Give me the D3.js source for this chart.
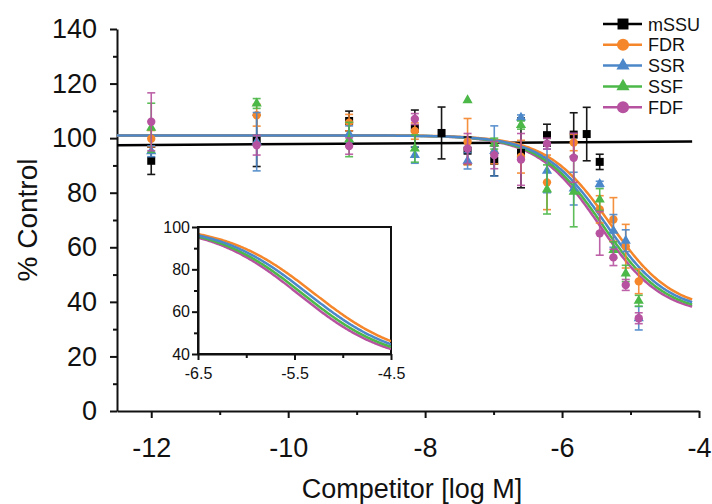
<!DOCTYPE html>
<html lang="en">
<head>
  <meta charset="UTF-8">
  <script src="https://d3js.org/d3.v7.min.js"></script>
  <style>
    body { margin: 0; background: #fff; }
    svg text { font-family: "Liberation Sans", Arial, sans-serif; fill: #111; }
  </style>
  <title>Competition curves</title>
</head>
<body>
  <div id="chart"></div>
  <script>
    // log concentrations used for each series
    var xAll = [-12, -10.46, -9.11, -8.15, -7.38, -6.99, -6.60, -6.22, -5.83, -5.45, -5.25, -5.07, -4.88];
    var xSSU = [-12, -10.46, -9.11, -8.15, -7.76, -7.38, -6.99, -6.60, -6.22, -5.83, -5.64, -5.45];

    // % control, mean and error
    var mSSU    = [91.7, 99.0, 106.3, 103.5, 101.9, 95.4, 91.7, 94.6, 101.1, 101.3, 101.5, 91.3];
    var mSSUErr = [5.0, 9.4, 3.6, 6.8, 9.5, 5.0, 5.5, 12.8, 4.0, 8.0, 9.8, 2.8];
    var FDR     = [99.8, 108.4, 105.7, 102.6, 98.7, 94.6, 93.2, 83.8, 98.4, 73.9, 70.2, 60.4, 47.5];
    var FDRErr  = [3.0, 4.0, 3.0, 3.0, 8.5, 4.0, 6.0, 10.0, 3.0, 5.0, 8.0, 8.0, 4.5];
    var SSR     = [95.2, 98.7, 101.5, 93.8, 91.7, 95.3, 107.5, 88.0, 81.5, 83.2, 66.0, 62.4, 34.0];
    var SSRErr  = [2.0, 10.7, 3.0, 3.0, 3.0, 9.2, 1.0, 8.0, 6.0, 1.0, 6.0, 4.0, 4.3];
    var SSF     = [103.8, 112.7, 99.5, 96.2, 113.9, 98.0, 104.8, 81.2, 80.3, 77.5, 59.0, 50.4, 40.4];
    var SSFErr  = [9.0, 1.8, 6.3, 5.0, 0, 2.0, 1.5, 9.0, 12.8, 4.0, 3.0, 3.0, 2.0];
    var FDF     = [106.0, 97.4, 97.1, 107.0, 96.2, 93.8, 92.2, 98.0, 92.8, 65.1, 56.3, 46.2, 34.0];
    var FDFErr  = [10.6, 3.6, 3.0, 2.0, 5.5, 5.0, 9.5, 2.0, 9.0, 8.0, 3.0, 2.0, 2.0];

    // fitted curves (4-parameter logistic), mSSU fit is nearly flat
    var fitNames  = ["FDF", "SSF", "FDR", "SSR"];
    var fitTop    = [101.0, 101.0, 101.0, 101.0];
    var fitBottom = [35.0, 35.5, 36.5, 36.0];
    var fitLogIC  = [-5.45, -5.41, -5.30, -5.36];
    var fitHill   = [0.95, 0.95, 0.95, 0.95];
    var mSSUFitX  = [-12.5, -4.1];
    var mSSUFitY  = [97.4, 98.8];

    var legendNames = ["mSSU", "FDR", "SSR", "SSF", "FDF"];
    var xTicks = [-12, -10, -8, -6, -4];
    var yTicks = [0, 20, 40, 60, 80, 100, 120, 140];
    var insetXTicks = [-6.5, -5.5, -4.5];
    var insetYTicks = [40, 60, 80, 100];

    var colors = { mSSU: "#000000", FDR: "#f5862a", SSR: "#4b87c9", SSF: "#4cb848", FDF: "#b6529f" };
    var shapes = { mSSU: d3.symbolSquare, FDR: d3.symbolCircle, SSR: d3.symbolTriangle, SSF: d3.symbolTriangle, FDF: d3.symbolCircle };

    var width = 712, height = 504;
    var svg = d3.select("#chart").append("svg")
        .attr("width", width)
        .attr("height", height);

    var x = d3.scaleLinear().domain([-12.5, -4]).range([117, 699]);
    var y = d3.scaleLinear().domain([0, 140]).range([411, 29]);

    // axes
    var xAxis = svg.append("g").attr("transform", "translate(0,411)")
        .call(d3.axisBottom(x).tickValues(xTicks).tickSize(7).tickSizeOuter(0).tickFormat(d3.format("d")));
    svg.append("g").attr("transform", "translate(0,411)")
        .call(d3.axisBottom(x).tickValues([-11, -9, -7, -5]).tickSize(4).tickFormat(""))
        .select(".domain").remove();
    var yAxis = svg.append("g").attr("transform", "translate(117,0)")
        .call(d3.axisLeft(y).tickValues(yTicks).tickSize(7).tickSizeOuter(0));
    svg.append("g").attr("transform", "translate(117,0)")
        .call(d3.axisLeft(y).tickValues(d3.range(10, 140, 20)).tickSize(4).tickFormat(""))
        .select(".domain").remove();

    svg.selectAll(".domain, .tick line").attr("stroke", "#111").attr("stroke-width", 2);
    xAxis.selectAll("text").attr("font-size", 27).attr("dy", "36px").text(function(d) { return d < 0 ? "-" + Math.abs(d) : d; });
    yAxis.selectAll("text").attr("font-size", 27).attr("x", -20);

    svg.append("text")
        .attr("x", 412).attr("y", 498)
        .attr("text-anchor", "middle")
        .attr("font-size", 27)
        .text("Competitor [log M]");
    svg.append("text")
        .attr("transform", "translate(37,220) rotate(-90)")
        .attr("text-anchor", "middle")
        .attr("font-size", 28)
        .text("% Control");

    function logistic(i, v) {
      return fitBottom[i] + (fitTop[i] - fitBottom[i]) / (1 + Math.pow(10, (v - fitLogIC[i]) * fitHill[i]));
    }

    // main fit curves
    var curveX = d3.range(-12.5, -4.1 + 1e-9, 0.02);
    var line = d3.line().x(function(d) { return x(d[0]); }).y(function(d) { return y(d[1]); });

    svg.append("path")
        .datum(mSSUFitX.map(function(v, i) { return [v, mSSUFitY[i]]; }))
        .attr("d", line)
        .attr("fill", "none")
        .attr("stroke", colors.mSSU)
        .attr("stroke-width", 2.5);

    fitNames.forEach(function(name, i) {
      svg.append("path")
          .datum(curveX.map(function(v) { return [v, logistic(i, v)]; }))
          .attr("d", line)
          .attr("fill", "none")
          .attr("stroke", colors[name])
          .attr("stroke-width", 2.5);
    });

    // data points with error bars
    var series = [
      { name: "mSSU", xs: xSSU, vals: mSSU, err: mSSUErr },
      { name: "FDR", xs: xAll, vals: FDR, err: FDRErr },
      { name: "SSR", xs: xAll, vals: SSR, err: SSRErr },
      { name: "SSF", xs: xAll, vals: SSF, err: SSFErr },
      { name: "FDF", xs: xAll, vals: FDF, err: FDFErr }
    ];

    series.forEach(function(s) {
      var pts = s.xs.map(function(v, i) { return { x: v, y: s.vals[i], e: s.err[i] }; });
      var g = svg.append("g").attr("stroke", colors[s.name]).attr("stroke-width", 1.6).attr("opacity", 0.9);
      pts.forEach(function(p) {
        if (p.e <= 0) return;
        var cx = x(p.x);
        g.append("line").attr("x1", cx).attr("x2", cx).attr("y1", y(p.y - p.e)).attr("y2", y(p.y + p.e));
        g.append("line").attr("x1", cx - 4).attr("x2", cx + 4).attr("y1", y(p.y - p.e)).attr("y2", y(p.y - p.e));
        g.append("line").attr("x1", cx - 4).attr("x2", cx + 4).attr("y1", y(p.y + p.e)).attr("y2", y(p.y + p.e));
      });
      var size = s.name === "mSSU" ? 64 : (shapes[s.name] === d3.symbolCircle ? 55 : 45);
      svg.append("g").selectAll("path")
          .data(pts)
          .enter().append("path")
          .attr("d", d3.symbol().type(shapes[s.name]).size(size))
          .attr("transform", function(d) { return "translate(" + x(d.x) + "," + y(d.y) + ")"; })
          .attr("fill", colors[s.name]);
    });

    // inset
    var ix = d3.scaleLinear().domain([-6.5, -4.5]).range([198, 391]);
    var iy = d3.scaleLinear().domain([40, 100]).range([354, 227]);

    svg.append("rect")
        .attr("x", 198).attr("y", 227).attr("width", 193).attr("height", 127)
        .attr("fill", "#fff").attr("stroke", "#111").attr("stroke-width", 2);

    svg.append("clipPath").attr("id", "insetClip")
      .append("rect").attr("x", 198).attr("y", 227).attr("width", 193).attr("height", 127);

    var insetX = d3.range(-6.5, -4.5 + 1e-9, 0.01);
    var iline = d3.line().x(function(d) { return ix(d[0]); }).y(function(d) { return iy(d[1]); });
    fitNames.forEach(function(name, i) {
      svg.append("path")
          .datum(insetX.map(function(v) { return [v, logistic(i, v)]; }))
          .attr("d", iline)
          .attr("clip-path", "url(#insetClip)")
          .attr("fill", "none")
          .attr("stroke", colors[name])
          .attr("stroke-width", 2.5);
    });

    var ixAxis = svg.append("g").attr("transform", "translate(0,354)")
        .call(d3.axisBottom(ix).tickValues(insetXTicks).tickSize(6).tickSizeOuter(0).tickFormat(d3.format(".1f")));
    svg.append("g").attr("transform", "translate(0,354)")
        .call(d3.axisBottom(ix).tickValues([-6, -5]).tickSize(4).tickFormat(""))
        .select(".domain").remove();
    var iyAxis = svg.append("g").attr("transform", "translate(198,0)")
        .call(d3.axisLeft(iy).tickValues(insetYTicks).tickSize(6).tickSizeOuter(0));
    svg.append("g").attr("transform", "translate(198,0)")
        .call(d3.axisLeft(iy).tickValues([50, 70, 90]).tickSize(4).tickFormat(""))
        .select(".domain").remove();
    svg.selectAll(".domain, .tick line").attr("stroke", "#111").attr("stroke-width", 2);
    ixAxis.selectAll("text").attr("font-size", 16).attr("dy", "1.0em").text(function(d) { return d < 0 ? "-" + Math.abs(d).toFixed(1) : d; });
    iyAxis.selectAll("text").attr("font-size", 16).attr("x", -8);

    // legend
    var legend = svg.append("g");
    legendNames.forEach(function(name, i) {
      var ly = 24 + i * 20.8;
      legend.append("line")
          .attr("x1", 603).attr("x2", 642).attr("y1", ly).attr("y2", ly)
          .attr("stroke", colors[name]).attr("stroke-width", 2.5);
      legend.append("path")
          .attr("d", d3.symbol().type(shapes[name]).size(name === "mSSU" ? 120 : (shapes[name] === d3.symbolCircle ? 115 : 75)))
          .attr("transform", "translate(623," + ly + ")")
          .attr("fill", colors[name]);
      legend.append("text")
          .attr("x", 648).attr("y", ly + 6.5)
          .attr("font-size", 18)
          .text(name);
    });
  </script>
</body>
</html>
